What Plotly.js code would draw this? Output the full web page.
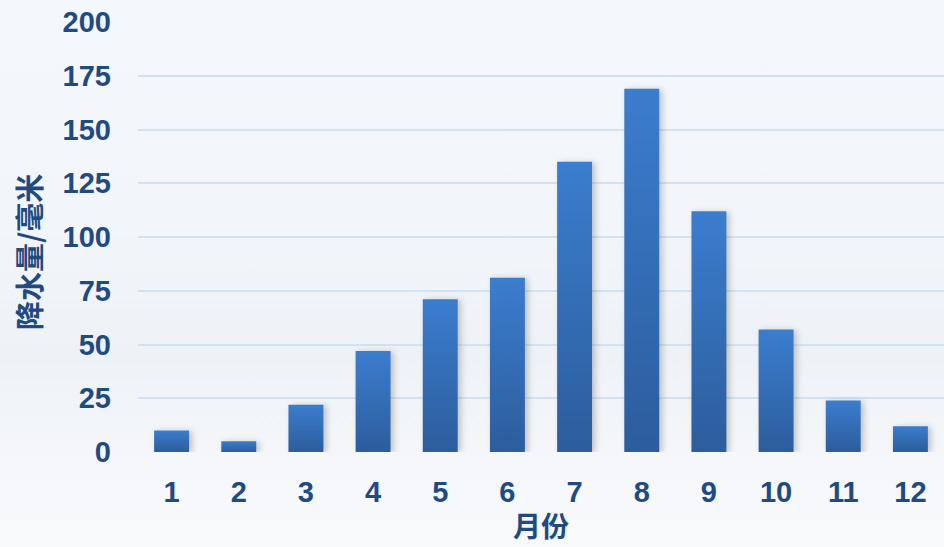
<!DOCTYPE html>
<html>
<head>
<meta charset="utf-8">
<script src="https://cdn.plot.ly/plotly-3.0.1.min.js"></script>
<style>
html,body{margin:0;padding:0;width:944px;height:547px;overflow:hidden;
background:linear-gradient(180deg,#f4f7fb 0%,#f2f6fa 40%,#eef2f6 65%,#f5f7fa 85%,#f7f9fb 100%);}
#chart{width:944px;height:547px;}
</style>
</head>
<body>
<div id="chart"></div>
<script>
const months = ['1','2','3','4','5','6','7','8','9','10','11','12'];
const precipitation = [10, 5, 22, 47, 71, 81, 135, 169, 112, 57, 24, 12];
const yTicks = [0, 25, 50, 75, 100, 125, 150, 175, 200];
const xTitle = '月份';
const yTitle = '降水量/毫米';

const textColor = '#1f4b80';
const fontFam = 'Liberation Sans, Arial, sans-serif';
const cjkFam = 'Noto Sans CJK SC, sans-serif';

const data = [{
  type: 'bar',
  x: months,
  y: precipitation,
  marker: {color: '#3470b8', line: {width: 0}},
  hoverinfo: 'x+y'
}];

const layout = {
  width: 944, height: 547,
  margin: {l: 138, r: 0, t: 22, b: 95},
  paper_bgcolor: 'rgba(0,0,0,0)',
  plot_bgcolor: 'rgba(0,0,0,0)',
  bargap: 0.48,
  showlegend: false,
  xaxis: {
    type: 'category',
    showgrid: false,
    zeroline: false,
    showline: false,
    ticks: '',
    ticklabelstandoff: 20,
    tickfont: {family: fontFam, size: 29, color: textColor, weight: 'bold'}
  },
  yaxis: {
    range: [0, 200],
    tickvals: yTicks,
    ticktext: yTicks.map(String),
    showgrid: true,
    gridcolor: '#d3e2f3',
    gridwidth: 2,
    zeroline: false,
    showline: false,
    ticks: '',
    ticklabelstandoff: 26,
    tickfont: {family: fontFam, size: 29, color: textColor, weight: 'bold'}
  },
  annotations: [
    {text: xTitle, xref: 'paper', yref: 'paper', x: 0.5, y: (452 - 525) / 430,
     xanchor: 'center', yanchor: 'middle', showarrow: false,
     font: {family: cjkFam, size: 28, color: textColor, weight: 'bold'}},
    {text: yTitle, xref: 'paper', yref: 'paper', x: (28 - 138) / 806, y: (452 - 252) / 430,
     xanchor: 'center', yanchor: 'middle', showarrow: false, textangle: -90,
     font: {family: cjkFam, size: 29, color: textColor, weight: 'bold'}}
  ]
};

Plotly.newPlot('chart', data, layout, {displayModeBar: false, staticPlot: true}).then(function(gd){
  const svg = gd.querySelector('svg.main-svg');
  const ns = 'http://www.w3.org/2000/svg';
  let defs = svg.querySelector('defs');
  if (!defs) { defs = document.createElementNS(ns, 'defs'); svg.insertBefore(defs, svg.firstChild); }
  const grad = document.createElementNS(ns, 'linearGradient');
  grad.setAttribute('id', 'barGrad');
  grad.setAttribute('x1', '0'); grad.setAttribute('y1', '0');
  grad.setAttribute('x2', '0'); grad.setAttribute('y2', '1');
  [['0%', '#3b7dce'], ['100%', '#2c5d9c']].forEach(function(s){
    const st = document.createElementNS(ns, 'stop');
    st.setAttribute('offset', s[0]); st.setAttribute('stop-color', s[1]);
    grad.appendChild(st);
  });
  defs.appendChild(grad);
  gd.querySelectorAll('.bars .point path').forEach(function(p){
    p.style.fill = 'url(#barGrad)';
    p.style.filter = 'drop-shadow(3px 1px 3px rgba(0,0,0,0.22))';
  });
});
</script>
</body>
</html>
